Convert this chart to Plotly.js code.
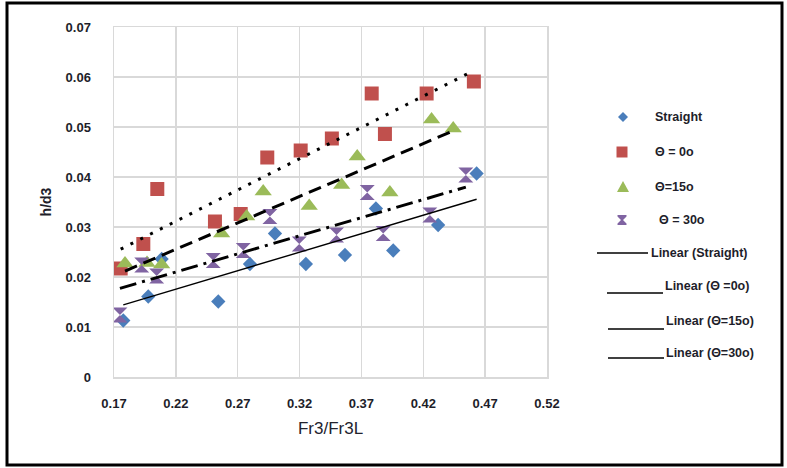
<!DOCTYPE html>
<html>
<head>
<meta charset="utf-8">
<script src="https://cdn.plot.ly/plotly-3.0.1.min.js"></script>
<style>
  html, body { margin: 0; padding: 0; background: #fff; }
  #chart { width: 787px; height: 468px; }
</style>
</head>
<body>
<div id="chart"></div>
<script>
// Measured series: relative flow ratio Fr3/Fr3L against h/d3
const straightX = [0.1775, 0.1977, 0.2085, 0.2543, 0.2799, 0.3001, 0.3251, 0.3567, 0.3817, 0.3957, 0.4320, 0.4631];
const straightY = [0.0113, 0.0161, 0.0236, 0.0151, 0.0226, 0.0287, 0.0226, 0.0244, 0.0337, 0.0253, 0.0304, 0.0407];

const theta0X = [0.1754, 0.1937, 0.2050, 0.2516, 0.2724, 0.2939, 0.3209, 0.3461, 0.3783, 0.3890, 0.4227, 0.4609];
const theta0Y = [0.0217, 0.0266, 0.0376, 0.0311, 0.0326, 0.0439, 0.0453, 0.0477, 0.0567, 0.0486, 0.0567, 0.0591];

const theta15X = [0.1789, 0.1967, 0.2085, 0.2570, 0.2772, 0.2906, 0.3278, 0.3540, 0.3666, 0.3930, 0.4267, 0.4442];
const theta15Y = [0.0227, 0.0228, 0.0225, 0.0287, 0.0321, 0.0371, 0.0342, 0.0384, 0.0441, 0.0369, 0.0515, 0.0497];

const theta30X = [0.1748, 0.1924, 0.2045, 0.2502, 0.2745, 0.2960, 0.3197, 0.3499, 0.3747, 0.3876, 0.4253, 0.4544];
const theta30Y = [0.0124, 0.0224, 0.0202, 0.0233, 0.0253, 0.0321, 0.0266, 0.0284, 0.0369, 0.0287, 0.0324, 0.0404];

const seriesNames = ['Straight', 'Θ = 0o', 'Θ=15o', 'Θ = 30o'];
const trendNames = ['Linear (Straight)', 'Linear (Θ =0o)', 'Linear (Θ=15o)', 'Linear (Θ=30o)'];

const xTickVals = [0.17, 0.22, 0.27, 0.32, 0.37, 0.42, 0.47, 0.52];
const xTickText = ['0.17', '0.22', '0.27', '0.32', '0.37', '0.42', '0.47', '0.52'];
const yTickVals = [0, 0.01, 0.02, 0.03, 0.04, 0.05, 0.06, 0.07];
const yTickText = ['0', '0.01', '0.02', '0.03', '0.04', '0.05', '0.06', '0.07'];

// ---- styling ----
const W = 787, H = 468;
const M = { l: 114, r: 240, t: 27, b: 91 };
const PW = W - M.l - M.r, PH = H - M.t - M.b;
const px2x = p => (p - M.l) / PW;          // page pixel -> paper x
const py2y = p => (H - M.b - p) / PH;      // page pixel -> paper y

const SANS = '"Liberation Sans", Arial, sans-serif';
const INK = '#1e1e2a';

const colors = ['#4a7ebb', '#c0504d', '#9bbb59', '#8064a2'];
const symbols = ['diamond', 'square', 'triangle-up', 'hourglass'];
const sizes = [11, 14, 15, 15];
const dashes = ['solid', '3px,8px', '13px,7px', '17px,6px,3px,6px'];
const widths = [1.4, 3, 3, 3];

const xs = [straightX, theta0X, theta15X, theta30X];
const ys = [straightY, theta0Y, theta15Y, theta30Y];

// least-squares linear trendline spanning the series' x extent
function linearFit(x, y) {
  const n = x.length;
  const mx = x.reduce((a, b) => a + b, 0) / n;
  const my = y.reduce((a, b) => a + b, 0) / n;
  let sxy = 0, sxx = 0;
  for (let i = 0; i < n; i++) {
    sxy += (x[i] - mx) * (y[i] - my);
    sxx += (x[i] - mx) * (x[i] - mx);
  }
  const k = sxy / sxx, c = my - k * mx;
  const x0 = Math.min(...x), x1 = Math.max(...x);
  return { x: [x0, x1], y: [k * x0 + c, k * x1 + c] };
}

const traces = [];
for (let i = 0; i < 4; i++) {
  traces.push({
    type: 'scatter', mode: 'markers', name: seriesNames[i],
    x: xs[i], y: ys[i],
    marker: { symbol: symbols[i], size: sizes[i], color: colors[i], line: { width: 0 } },
    showlegend: false, hoverinfo: 'skip'
  });
}
for (let i = 0; i < 4; i++) {
  const f = linearFit(xs[i], ys[i]);
  traces.push({
    type: 'scatter', mode: 'lines', name: trendNames[i],
    x: f.x, y: f.y,
    line: { color: '#000', width: widths[i], dash: dashes[i] },
    showlegend: false, hoverinfo: 'skip'
  });
}

// ---- hand-drawn legend ----
const shapes = [];
const annotations = [];

// outer frame of the figure
shapes.push({
  type: 'rect', xref: 'paper', yref: 'paper',
  x0: px2x(7), x1: px2x(782), y0: py2y(3), y1: py2y(465),
  line: { color: '#000', width: 3 }, fillcolor: 'rgba(0,0,0,0)', layer: 'below'
});

const markerPaths = [
  'M -5 0 L 0 5 L 5 0 L 0 -5 Z',
  'M -5.5 -5.5 L 5.5 -5.5 L 5.5 5.5 L -5.5 5.5 Z',
  'M -6 -5 L 6 -5 L 0 6 Z',
  'M -4.5 5 L 4.5 5 L 4.5 3.5 L 1 0 L 4.5 -3.5 L 4.5 -5 L -4.5 -5 L -4.5 -3.5 L -1 0 L -4.5 3.5 Z'
];
const markerKeys = [[623, 117], [622, 152], [623, 187], [622, 220]];
const markerText = [[653, 117], [653, 152], [653, 187], [657, 220]];
const legendFont = { family: SANS, size: 12.5, color: INK, weight: 'bold' };
for (let i = 0; i < 4; i++) {
  shapes.push({
    type: 'path', xref: 'paper', yref: 'paper',
    xsizemode: 'pixel', ysizemode: 'pixel',
    xanchor: px2x(markerKeys[i][0]), yanchor: py2y(markerKeys[i][1]),
    path: markerPaths[i], fillcolor: colors[i], line: { width: 0 }
  });
  annotations.push({
    xref: 'paper', yref: 'paper', x: px2x(markerText[i][0]), y: py2y(markerText[i][1]),
    xanchor: 'left', yanchor: 'middle', showarrow: false, text: seriesNames[i],
    font: legendFont
  });
}

const lineKeys = [[597, 648, 253], [607, 663, 293], [608, 664, 329], [608, 664, 358]];
const lineText = [[649, 253], [663, 286], [664, 321], [664, 353]];
for (let i = 0; i < 4; i++) {
  shapes.push({
    type: 'line', xref: 'paper', yref: 'paper',
    x0: px2x(lineKeys[i][0]), x1: px2x(lineKeys[i][1]),
    y0: py2y(lineKeys[i][2]), y1: py2y(lineKeys[i][2]),
    line: { color: '#000', width: 1.5 }
  });
  annotations.push({
    xref: 'paper', yref: 'paper', x: px2x(lineText[i][0]), y: py2y(lineText[i][1]),
    xanchor: 'left', yanchor: 'middle', showarrow: false, text: trendNames[i],
    font: legendFont
  });
}

const gridColor = '#d9d9d9';
const tickFont = { family: SANS, size: 13, color: INK, weight: 'bold' };
const layout = {
  width: W, height: H,
  margin: M,
  paper_bgcolor: '#fff', plot_bgcolor: '#fff',
  showlegend: false,
  xaxis: {
    range: [0.17, 0.52], tickvals: xTickVals, ticktext: xTickText,
    showgrid: true, gridcolor: gridColor, gridwidth: 1.5,
    showline: true, linecolor: gridColor, linewidth: 1.5, mirror: true,
    zeroline: false, ticks: '', ticklabelstandoff: 14,
    tickfont: tickFont,
    title: { text: 'Fr3/Fr3L', standoff: 12, font: { family: SANS, size: 17, color: '#23232e' } },
    automargin: false
  },
  yaxis: {
    range: [0, 0.07], tickvals: yTickVals, ticktext: yTickText,
    showgrid: true, gridcolor: gridColor, gridwidth: 1.5,
    showline: true, linecolor: gridColor, linewidth: 1.5, mirror: true,
    zeroline: false, ticks: '', ticklabelstandoff: 19,
    tickfont: tickFont,
    title: { text: 'h/d3', standoff: 10, font: { family: SANS, size: 14, color: INK, weight: 'bold' } },
    automargin: false
  },
  shapes: shapes,
  annotations: annotations
};

Plotly.newPlot('chart', traces, layout, { displayModeBar: false, staticPlot: true });
</script>
</body>
</html>
